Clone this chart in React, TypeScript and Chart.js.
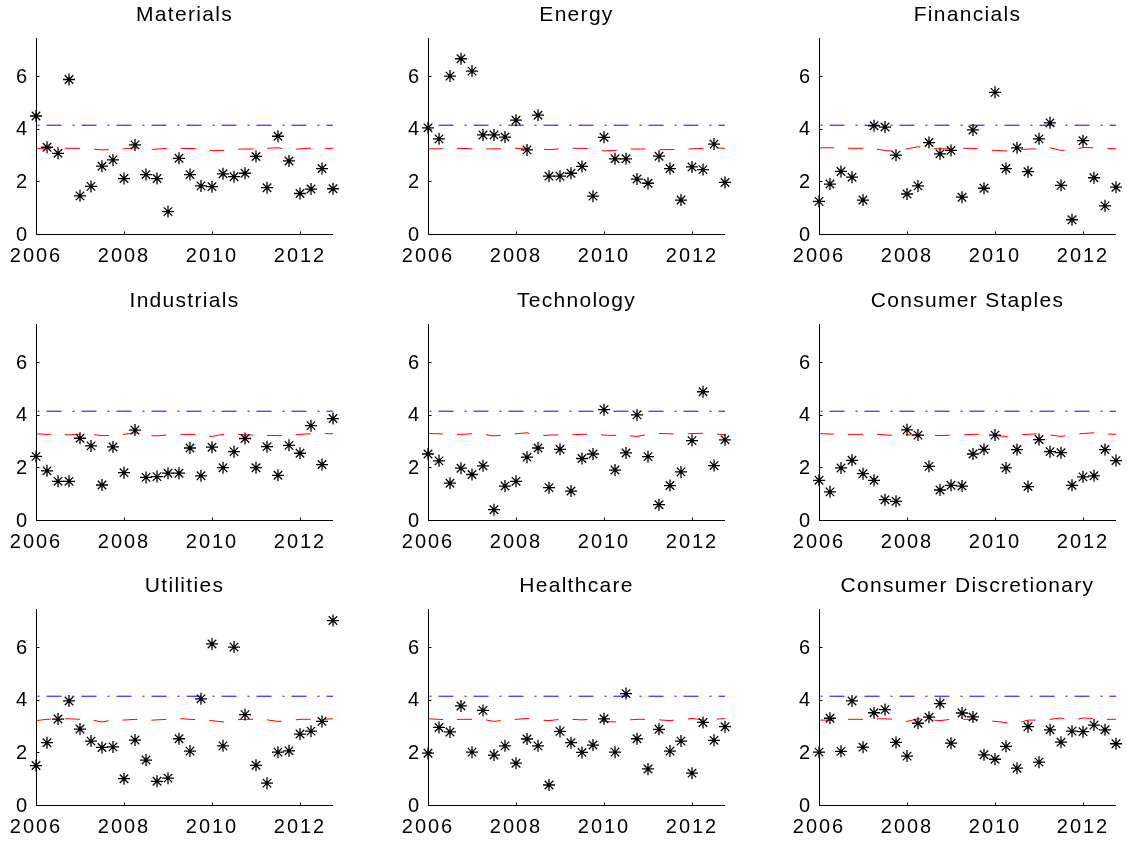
import React, { useEffect, useRef } from "react";
import { Chart, registerables } from "chart.js";

Chart.register(...registerables);

// ---------- data ----------
const quarters = [
  2006, 2006.25, 2006.5, 2006.75, 2007, 2007.25, 2007.5, 2007.75,
  2008, 2008.25, 2008.5, 2008.75, 2009, 2009.25, 2009.5, 2009.75,
  2010, 2010.25, 2010.5, 2010.75, 2011, 2011.25, 2011.5, 2011.75,
  2012, 2012.25, 2012.5, 2012.75,
];
const xTickValues = [2006, 2008, 2010, 2012];
const yTickValues = [0, 2, 4, 6];
const xMin = 2006;
const xMax = 2012.75;
const yMin = 0;
const yMax = 7.5;
const blueLevel = 4.18;

const sectorTitles = [
  "Materials", "Energy", "Financials",
  "Industrials", "Technology", "Consumer Staples",
  "Utilities", "Healthcare", "Consumer Discretionary",
];

const materialsStars = [4.53, 3.34, 3.11, 5.92, 1.49, 1.85, 2.62, 2.86, 2.15, 3.43, 2.30, 2.15, 0.89, 2.92, 2.30, 1.87, 1.84, 2.33, 2.22, 2.35, 2.99, 1.80, 3.76, 2.82, 1.58, 1.75, 2.53, 1.76];
const energyStars = [4.08, 3.66, 6.05, 6.71, 6.24, 3.81, 3.81, 3.73, 4.37, 3.24, 4.56, 2.24, 2.24, 2.35, 2.61, 1.48, 3.72, 2.90, 2.90, 2.13, 1.97, 3.00, 2.53, 1.33, 2.59, 2.49, 3.46, 2.00];
const financialsStars = [1.28, 1.94, 2.42, 2.20, 1.33, 4.16, 4.11, 3.04, 1.56, 1.87, 3.52, 3.09, 3.22, 1.44, 4.00, 1.78, 5.43, 2.53, 3.32, 2.41, 3.66, 4.27, 1.89, 0.58, 3.59, 2.18, 1.11, 1.82];
const industrialsStars = [2.46, 1.91, 1.51, 1.51, 3.15, 2.86, 1.37, 2.82, 1.84, 3.46, 1.66, 1.69, 1.82, 1.82, 2.78, 1.72, 2.81, 2.03, 2.64, 3.14, 2.03, 2.83, 1.74, 2.88, 2.58, 3.63, 2.15, 3.90];
const technologyStars = [2.55, 2.29, 1.44, 2.01, 1.77, 2.10, 0.43, 1.33, 1.51, 2.43, 2.78, 1.27, 2.73, 1.14, 2.38, 2.55, 4.24, 1.94, 2.59, 4.04, 2.45, 0.62, 1.35, 1.87, 3.06, 4.92, 2.11, 3.09];
const staplesStars = [1.55, 1.11, 2.02, 2.31, 1.80, 1.55, 0.81, 0.75, 3.47, 3.27, 2.08, 1.18, 1.36, 1.33, 2.55, 2.73, 3.27, 2.02, 2.72, 1.31, 3.10, 2.64, 2.60, 1.36, 1.68, 1.72, 2.72, 2.30];
const utilitiesStars = [1.54, 2.41, 3.31, 4.00, 2.93, 2.47, 2.23, 2.25, 1.04, 2.51, 1.75, 0.94, 1.06, 2.56, 2.09, 4.08, 6.17, 2.29, 6.05, 3.48, 1.55, 0.87, 2.05, 2.10, 2.74, 2.85, 3.22, 7.06];
const healthcareStars = [2.01, 2.99, 2.82, 3.81, 2.05, 3.64, 1.94, 2.29, 1.63, 2.55, 2.29, 0.80, 2.84, 2.41, 2.04, 2.32, 3.32, 2.05, 4.28, 2.56, 1.41, 2.92, 2.09, 2.47, 1.25, 3.18, 2.50, 3.02];
const discretionaryStars = [2.05, 3.34, 2.08, 4.00, 2.24, 3.55, 3.67, 2.42, 1.90, 3.15, 3.38, 3.90, 2.39, 3.54, 3.39, 1.95, 1.78, 2.27, 1.44, 3.02, 1.67, 2.90, 2.43, 2.85, 2.83, 3.08, 2.90, 2.37];

const materialsRed = [3.3, 3.3, 3.3, 3.3, 3.3, 3.28, 3.24, 3.25, 3.28, 3.32, 3.25, 3.27, 3.3, 3.3, 3.29, 3.3, 3.21, 3.22, 3.27, 3.27, 3.28, 3.3, 3.32, 3.25, 3.28, 3.31, 3.3, 3.3];
const energyRed = [3.28, 3.28, 3.3, 3.3, 3.28, 3.27, 3.28, 3.28, 3.3, 3.3, 3.28, 3.25, 3.28, 3.3, 3.3, 3.28, 3.2, 3.22, 3.27, 3.27, 3.28, 3.25, 3.25, 3.26, 3.28, 3.3, 3.32, 3.3];
const financialsRed = [3.32, 3.32, 3.32, 3.3, 3.3, 3.28, 3.22, 3.18, 3.28, 3.36, 3.3, 3.28, 3.28, 3.3, 3.3, 3.25, 3.22, 3.2, 3.25, 3.27, 3.28, 3.32, 3.22, 3.25, 3.33, 3.32, 3.3, 3.28];
const industrialsRed = [3.32, 3.3, 3.3, 3.28, 3.3, 3.3, 3.25, 3.26, 3.3, 3.36, 3.26, 3.24, 3.28, 3.3, 3.3, 3.28, 3.22, 3.3, 3.3, 3.28, 3.27, 3.26, 3.25, 3.25, 3.3, 3.32, 3.33, 3.32];
const technologyRed = [3.33, 3.32, 3.3, 3.3, 3.32, 3.3, 3.24, 3.28, 3.32, 3.36, 3.24, 3.27, 3.28, 3.28, 3.3, 3.3, 3.27, 3.26, 3.26, 3.22, 3.3, 3.33, 3.32, 3.3, 3.33, 3.34, 3.32, 3.28];
const staplesRed = [3.33, 3.31, 3.3, 3.3, 3.3, 3.3, 3.28, 3.25, 3.28, 3.28, 3.27, 3.25, 3.27, 3.28, 3.3, 3.3, 3.25, 3.22, 3.27, 3.3, 3.32, 3.28, 3.22, 3.3, 3.33, 3.36, 3.32, 3.3];
const utilitiesRed = [3.25, 3.3, 3.32, 3.32, 3.3, 3.28, 3.2, 3.28, 3.27, 3.3, 3.25, 3.28, 3.3, 3.33, 3.3, 3.28, 3.25, 3.2, 3.28, 3.3, 3.3, 3.28, 3.22, 3.25, 3.3, 3.3, 3.3, 3.32];
const healthcareRed = [3.32, 3.3, 3.28, 3.3, 3.3, 3.3, 3.22, 3.27, 3.3, 3.33, 3.28, 3.25, 3.3, 3.3, 3.28, 3.3, 3.22, 3.2, 3.27, 3.3, 3.3, 3.28, 3.25, 3.3, 3.33, 3.28, 3.3, 3.33];
const discretionaryRed = [3.27, 3.27, 3.3, 3.3, 3.3, 3.32, 3.32, 3.3, 3.22, 3.32, 3.28, 3.25, 3.3, 3.3, 3.3, 3.27, 3.22, 3.18, 3.15, 3.27, 3.27, 3.3, 3.35, 3.25, 3.35, 3.33, 3.3, 3.3];

const starSeries = [
  materialsStars, energyStars, financialsStars,
  industrialsStars, technologyStars, staplesStars,
  utilitiesStars, healthcareStars, discretionaryStars,
];
const redSeries = [
  materialsRed, energyRed, financialsRed,
  industrialsRed, technologyRed, staplesRed,
  utilitiesRed, healthcareRed, discretionaryRed,
];

// ---------- layout ----------
const PLOT_W = 297;
const PLOT_H = 197;
const AXIS_W = 40;
const TITLE_H = 39;
const XAXIS_H = 32;
const PAD_R = 12;
const CANVAS_W = AXIS_W + PLOT_W + PAD_R;
const CANVAS_H = TITLE_H + PLOT_H + XAXIS_H;
const colLefts = [36, 428, 819];
const rowTops = [38, 324, 609];
const FONT = "'Liberation Sans', Arial, Helvetica, sans-serif";

const matlabAxes = {
  id: "matlabAxes",
  beforeDraw(chart: any) {
    (chart.ctx as any).letterSpacing = "1.3px";
  },
  afterDatasetsDraw(chart: any) {
    (chart.ctx as any).letterSpacing = "2px";
  },
  afterDraw(chart: any) {
    const ctx = chart.ctx;
    const { left, top, right, bottom } = chart.chartArea;
    const xs = chart.scales.x;
    const ys = chart.scales.y;
    ctx.save();
    (ctx as any).letterSpacing = "0px";
    ctx.strokeStyle = "#000";
    ctx.lineWidth = 1;
    ctx.beginPath();
    const lx = Math.round(left) + 0.5;
    const by = Math.round(bottom) - 0.5;
    ctx.moveTo(lx, top);
    ctx.lineTo(lx, by);
    ctx.lineTo(right, by);
    xTickValues.forEach((v) => {
      const px = Math.round(xs.getPixelForValue(v)) + 0.5;
      ctx.moveTo(px, by);
      ctx.lineTo(px, by - 3);
    });
    yTickValues.forEach((v) => {
      const py = Math.round(ys.getPixelForValue(v)) - 0.5;
      ctx.moveTo(lx, py);
      ctx.lineTo(lx + 3, py);
    });
    ctx.stroke();
    ctx.restore();
  },
};

function Panel({ index }: { index: number }) {
  const ref = useRef<HTMLCanvasElement | null>(null);
  const col = index % 3;
  const row = Math.floor(index / 3);
  const left = colLefts[col] - AXIS_W;
  const top = rowTops[row] - TITLE_H;

  useEffect(() => {
    const stars = starSeries[index];
    const red = redSeries[index];
    const chart = new Chart(ref.current as HTMLCanvasElement, {
      type: "scatter",
      data: {
        datasets: [
          {
            data: quarters.map((x, i) => ({ x, y: stars[i] })),
            pointStyle: "star",
            pointRadius: 6,
            borderColor: "#000",
            backgroundColor: "#000",
            borderWidth: 1.3,
            showLine: false,
            clip: false,
          } as any,
          {
            data: quarters.map((x, i) => ({ x, y: red[i] })),
            showLine: true,
            borderColor: "#ff0000",
            borderWidth: 1,
            borderDash: [15, 14],
            pointRadius: 0,
            tension: 0,
            clip: false,
          } as any,
          {
            data: [
              { x: xMin, y: blueLevel },
              { x: xMax, y: blueLevel },
            ],
            showLine: true,
            borderColor: "#0000ff",
            borderWidth: 1,
            borderDash: [15, 11, 2, 7],
            borderDashOffset: 24.5,
            pointRadius: 0,
            clip: false,
          } as any,
        ],
      },
      options: {
        animation: false,
        responsive: false,
        maintainAspectRatio: false,
        events: [],
        layout: { padding: { left: 0, right: PAD_R, top: 0, bottom: 0 } },
        plugins: {
          legend: { display: false },
          tooltip: { enabled: false },
          title: {
            display: true,
            text: sectorTitles[index],
            fullSize: false,
            color: "#000",
            font: { family: FONT, size: 21, weight: "normal" as any, lineHeight: 1.2 },
            padding: { top: 3.4, bottom: 10.4 },
          },
        },
        scales: {
          x: {
            type: "linear",
            min: xMin,
            max: xMax,
            afterBuildTicks: (s: any) => {
              s.ticks = xTickValues.map((v) => ({ value: v }));
            },
            afterFit: (s: any) => {
              s.height = XAXIS_H;
            },
            grid: { display: false, drawTicks: false },
            border: { display: false },
            ticks: {
              z: 1,
              color: "#000",
              font: { family: FONT, size: 20 },
              padding: 9.5,
              maxRotation: 0,
              autoSkip: false,
              callback: (v: any) => String(v),
            },
          },
          y: {
            type: "linear",
            min: yMin,
            max: yMax,
            afterBuildTicks: (s: any) => {
              s.ticks = yTickValues.map((v) => ({ value: v }));
            },
            afterFit: (s: any) => {
              s.width = AXIS_W;
            },
            grid: { display: false, drawTicks: false },
            border: { display: false },
            ticks: {
              z: 1,
              color: "#000",
              font: { family: FONT, size: 20 },
              padding: 7,
              autoSkip: false,
              callback: (v: any) => String(v),
            },
          },
        },
      } as any,
      plugins: [matlabAxes],
    });
    return () => chart.destroy();
  }, [index]);

  return (
    <canvas
      ref={ref}
      width={CANVAS_W}
      height={CANVAS_H}
      style={{ position: "absolute", left, top, width: CANVAS_W, height: CANVAS_H }}
    />
  );
}

export default function App() {
  return (
    <div
      style={{
        position: "absolute",
        left: 0,
        top: 0,
        width: 1127,
        height: 842,
        overflow: "hidden",
        background: "#fff",
      }}
    >
      {sectorTitles.map((_, i) => (
        <Panel key={i} index={i} />
      ))}
    </div>
  );
}
